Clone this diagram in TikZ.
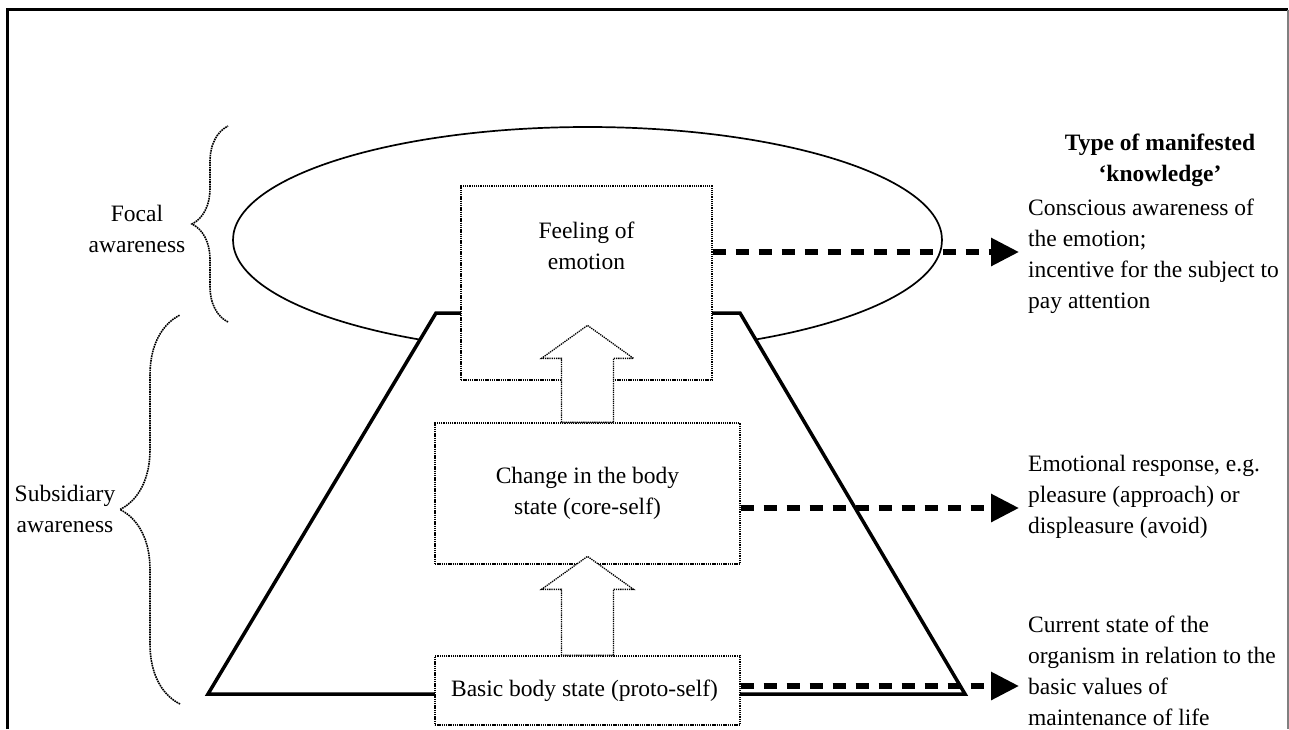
\documentclass[tikz,border=0pt]{standalone}
\usepackage{fontspec}
\setmainfont{Liberation Serif}
\usetikzlibrary{arrows.meta,positioning,calc,shapes.geometric,decorations.pathreplacing}

\tikzstyle{stage} = [rectangle, draw, dash pattern=on 1.3pt off 0.9pt, line width=1.3pt,
  fill=white, align=center, inner sep=0pt]
\tikzstyle{lift} = [draw, dash pattern=on 1.3pt off 0.9pt, line width=1.3pt, fill=white, line join=miter]
\tikzstyle{manifest} = [draw, line width=6pt, dash pattern=on 13pt off 10pt,
  -{Triangle[length=28pt,width=27pt]}]
\tikzstyle{caption} = [align=center, inner sep=0pt]
\tikzstyle{knowtext} = [align=left, anchor=west, inner sep=0pt]
\tikzset{
  awarebrace/.style={draw, dash pattern=on 1.6pt off 0.8pt, line width=1.6pt,
    decorate, decoration={brace, amplitude=#1}}
}
\newcommand{\liftarrow}[2]{% hollow arrow up out of node #1, shaft #2
  \draw[lift] ($(#1.north)+(-26,0)$) -- ++(0,-#2) -- ++(-20,0) -- ++(46,-33)
    -- ++(46,33) -- ++(-20,0) -- ++(0,#2) -- cycle;}

\begin{document}
\begin{tikzpicture}[x=1pt, y=-1pt, font=\fontsize{23.5}{31}\selectfont]

  \useasboundingbox (0,0) rectangle (1289,729);
  \draw[line width=3pt] (7,729) -- (7,9.5) -- (1288,9.5);
  \draw[gray, line width=1.5pt] (1288,9.5) -- (1288,729);

  %%%%%%%%%%%%%%%%%%%%%%%%%%%%%%%%%%%%%%%%%%%%%%%%%%%%%%%%%%%%%%
  %                    FOCUS AND PYRAMID                       %
  %%%%%%%%%%%%%%%%%%%%%%%%%%%%%%%%%%%%%%%%%%%%%%%%%%%%%%%%%%%%%%

  \node [ellipse, draw, line width=1.7pt, inner sep=0pt,
    minimum width=709pt, minimum height=226pt] (focus) at (587.5,240) {};

  \filldraw[fill=white, line width=3.5pt, line join=miter]
    (436,313) -- (740,313) -- (965,694) -- (208,694) -- cycle;

  %%%%%%%%%%%%%%%%%%%%%%%%%%%%%%%%%%%%%%%%%%%%%%%%%%%%%%%%%%%%%%
  %                    STAGES                                  %
  %%%%%%%%%%%%%%%%%%%%%%%%%%%%%%%%%%%%%%%%%%%%%%%%%%%%%%%%%%%%%%

  \node [stage, minimum width=251pt, minimum height=194pt] (feel) at (586.5,283) {};
  \node [caption, below = 36pt of feel.north] (feel-text) {Feeling of\\emotion};

  \node [stage, minimum width=305pt, minimum height=141pt] (change) at (587.5,493.5) {
    Change in the body\\state (core-self)
  };

  \node [stage, minimum width=305pt, minimum height=69pt] (basic) at (587.5,690.5) {
    Basic body state (proto-self)
  };

  \liftarrow{change}{64}
  \liftarrow{basic}{66}

  %%%%%%%%%%%%%%%%%%%%%%%%%%%%%%%%%%%%%%%%%%%%%%%%%%%%%%%%%%%%%%
  %                    AWARENESS                               %
  %%%%%%%%%%%%%%%%%%%%%%%%%%%%%%%%%%%%%%%%%%%%%%%%%%%%%%%%%%%%%%

  \draw[awarebrace=36pt] (228,322) -- (228,126);
  \draw[awarebrace=60pt] (180,704) -- (180,315);
  \node [caption] (focal) at (137,229) {Focal\\awareness};
  \node [caption] (subsidiary) at (65,509) {Subsidiary\\awareness};

  %%%%%%%%%%%%%%%%%%%%%%%%%%%%%%%%%%%%%%%%%%%%%%%%%%%%%%%%%%%%%%
  %                    MANIFESTED KNOWLEDGE                    %
  %%%%%%%%%%%%%%%%%%%%%%%%%%%%%%%%%%%%%%%%%%%%%%%%%%%%%%%%%%%%%%

  \node [caption, font=\fontsize{23.5}{31}\selectfont\bfseries] (know-header) at (1160,160) {
    Type of manifested\\‘knowledge’
  };
  \node [knowtext] (know1) at (1028,256) {
    Conscious awareness of\\the emotion;\\incentive for the subject to\\pay attention
  };
  \node [knowtext] (know2) at (1028,497) {
    Emotional response, e.g.\\pleasure (approach) or\\displeasure (avoid)
  };
  \node [knowtext] (know3) at (1028,671) {
    Current state of the\\organism in relation to the\\basic values of\\maintenance of life
  };

  \coordinate (tip1) at (1019,252);
  \coordinate (tip2) at (1019,508);
  \coordinate (tip3) at (1019,686);
  \draw[manifest] (feel.east |- tip1) -- (tip1);
  \draw[manifest] (change.east |- tip2) -- (tip2);
  \draw[manifest] (basic.east |- tip3) -- (tip3);

\end{tikzpicture}
\end{document}
